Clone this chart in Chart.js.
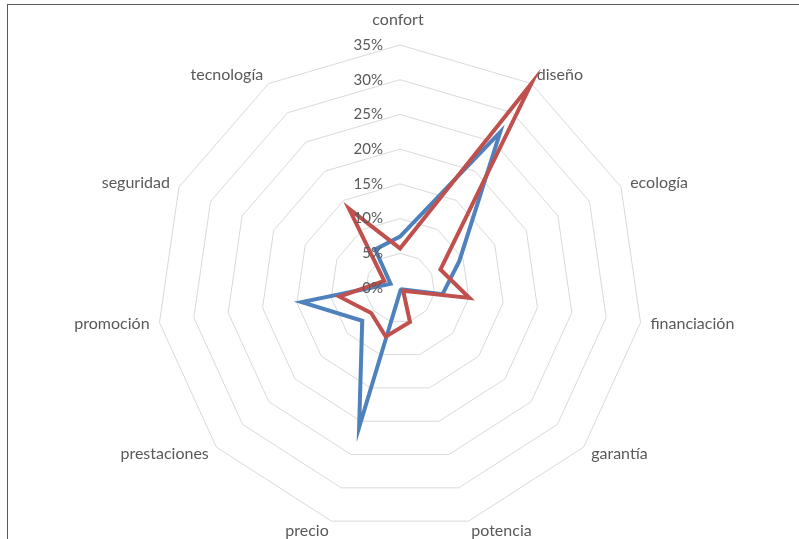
<!DOCTYPE html>
<html>
<head>
<meta charset="utf-8">
<script src="https://cdn.jsdelivr.net/npm/chart.js@4"></script>
<style>
  html, body { margin: 0; padding: 0; background: #fff; overflow: hidden; }
  #wrap { position: absolute; left: 0; top: 0; width: 799px; height: 539px; }
  #frame { position: absolute; left: 7px; top: 4px; width: 1000px; height: 1000px; border: 1px solid #5a5a5a; box-sizing: border-box; }
  #c { position: absolute; left: 0; top: 0; }
</style>
</head>
<body>
<div id="wrap">
  <div id="frame"></div>
  <canvas id="c" width="799" height="539"></canvas>
</div>
<script>
const categories = ["confort", "diseño", "ecología", "financiación", "garantía", "potencia", "precio", "prestaciones", "promoción", "seguridad", "tecnología"];
const serie1 = [7.4, 26.7, 9.4, 6.2, 0.3, 0.3, 20.9, 7.2, 14.3, 1.5, 6.6];
const serie2 = [5.7, 35.0, 6.4, 10.1, 0.6, 5.1, 7.3, 5.5, 8.8, 2.5, 13.6];
const tickValues = [0, 5, 10, 15, 20, 25, 30, 35];

const FONT = "Lato, 'Noto Sans', sans-serif";
const TEXT_COLOR = "#595959";

// Tick labels (left of the vertical axis) and category labels, placed from the radial scale
const labelPlugin = {
  id: 'excelLabels',
  afterDatasetsDraw(chart) {
    const s = chart.scales.r;
    const ctx = chart.ctx;
    ctx.save();
    ctx.fillStyle = TEXT_COLOR;
    ctx.textBaseline = "middle";
    ctx.font = "15px " + FONT;
    ctx.textAlign = "right";
    tickValues.forEach(v => {
      const y = s.yCenter - s.getDistanceFromCenterForValue(v);
      ctx.fillText(v + "%", s.xCenter - 17, y);
    });
    ctx.font = "16px " + FONT;
    chart.data.labels.forEach((lab, i) => {
      const p = s.getPointPosition(i, s.drawingArea);
      const dx = (p.x - s.xCenter) / s.drawingArea;
      const dy = (p.y - s.yCenter) / s.drawingArea;
      let x, y;
      if (Math.abs(dx) < 0.1) {
        ctx.textAlign = "center";
        x = p.x - 2;
        y = p.y + (dy < 0 ? -25 : 25);
      } else {
        ctx.textAlign = dx > 0 ? "left" : "right";
        x = p.x + dx * 10;
        y = p.y + dy * 10;
      }
      ctx.fillText(lab, x, y);
    });
    ctx.restore();
  }
};

new Chart(document.getElementById('c'), {
  type: 'radar',
  data: {
    labels: categories,
    datasets: [
      { label: 'Serie 2', data: serie2, borderColor: '#C0504D', backgroundColor: 'rgba(0,0,0,0)', borderWidth: 4, pointRadius: 0, tension: 0, fill: false, borderJoinStyle: 'miter' },
      { label: 'Serie 1', data: serie1, borderColor: '#4F81BD', backgroundColor: 'rgba(0,0,0,0)', borderWidth: 4, pointRadius: 0, tension: 0, fill: false, borderJoinStyle: 'miter' }
    ]
  },
  options: {
    responsive: false,
    animation: false,
    layout: { padding: { top: 45, bottom: 8, left: 1, right: 0 } },
    plugins: { legend: { display: false }, tooltip: { enabled: false } },
    scales: {
      r: {
        min: 0,
        max: 35,
        ticks: { stepSize: 5, display: false },
        angleLines: { display: false },
        grid: { color: '#D9D9D9', lineWidth: 1 },
        pointLabels: { display: false }
      }
    }
  },
  plugins: [labelPlugin]
});
</script>
</body>
</html>
